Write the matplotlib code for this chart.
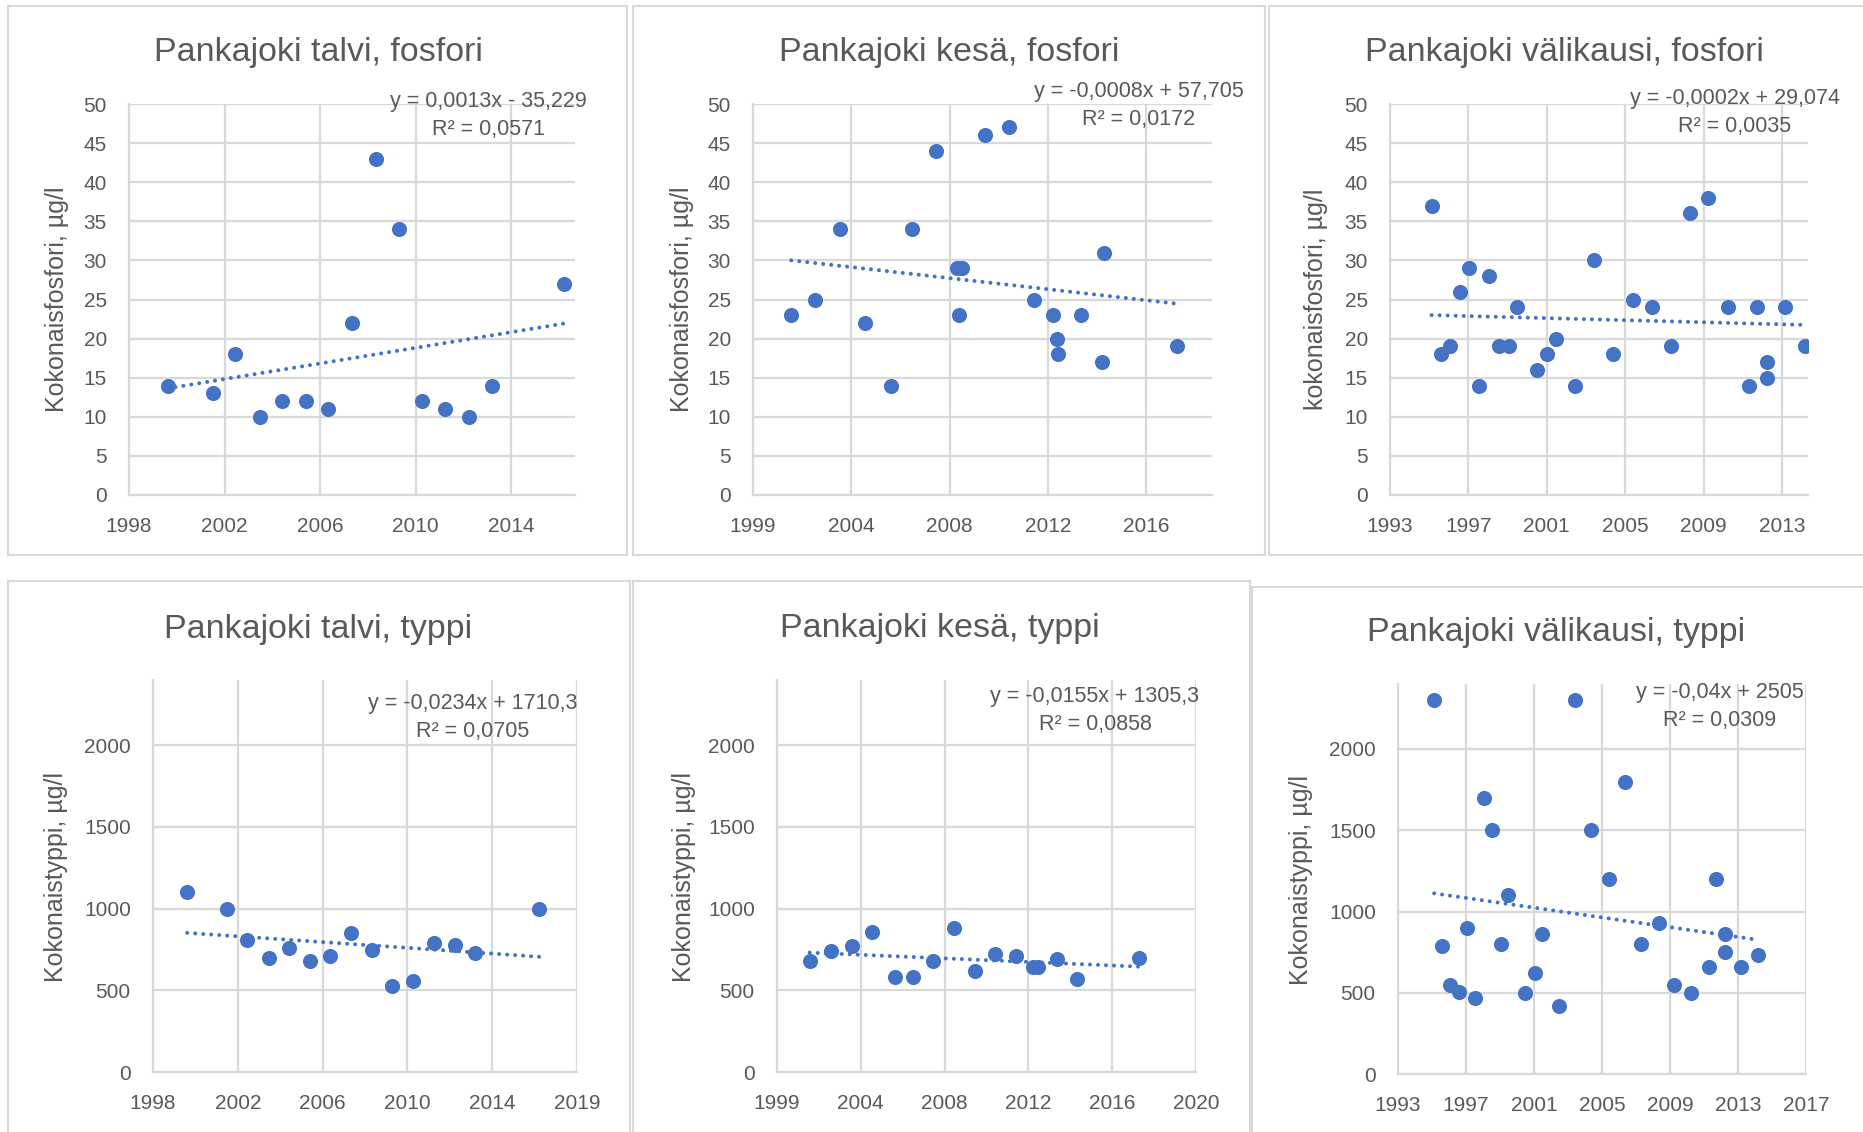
import numpy as np
import pandas as pd
import matplotlib
matplotlib.use('Agg')
import matplotlib.pyplot as plt
from matplotlib.patches import Rectangle

plt.rcParams['font.family'] = ['Liberation Sans', 'DejaVu Sans']

# sampling dates (Excel charts use date serials on the x axis)
talvi_dates = ['2000-03-20', '2002-02-26', '2003-02-08', '2004-03-05', '2005-02-26',
               '2006-02-25', '2007-02-17', '2008-02-27', '2009-02-25', '2010-02-24',
               '2011-02-20', '2012-02-28', '2013-03-06', '2014-03-05', '2017-04-04']
talvi_p = [14, 13, 18, 10, 12, 12, 11, 22, 43, 34, 12, 11, 10, 14, 27]
talvi_n = [1100, 1000, 810, 700, 760, 680, 710, 850, 750, 525, 560, 790, 780, 730, 1000]

kesa_p_dates = ['2001-07-12', '2002-07-14', '2003-07-29', '2004-08-05', '2005-09-13',
                '2006-08-02', '2007-07-29', '2008-06-10', '2008-07-17', '2008-08-30',
                '2009-08-13', '2010-08-15', '2011-08-23', '2012-06-10', '2012-08-17',
                '2012-08-30', '2013-08-19', '2014-06-26', '2014-08-09', '2017-08-19']
kesa_p = [23, 25, 34, 22, 14, 34, 44, 29, 23, 29, 46, 47, 25, 23, 20, 18, 23, 17, 31, 19]

kesa_n_dates = ['2001-07-13', '2002-07-26', '2003-08-09', '2004-08-07', '2005-09-10',
                '2006-08-04', '2007-08-03', '2008-08-15', '2009-08-14', '2010-08-20',
                '2011-08-27', '2012-06-21', '2012-09-22', '2013-08-23', '2014-08-15',
                '2017-08-25']
kesa_n = [680, 740, 770, 860, 580, 580, 680, 880, 620, 720, 710, 640, 640, 690, 570, 700]

vali_dates = ['1995-04-08', '1995-10-02', '1996-03-28', '1996-09-30', '1997-03-29',
              '1997-10-05', '1998-04-12', '1998-10-11', '1999-04-29', '1999-09-26',
              '2000-10-05', '2001-05-02', '2001-10-15', '2002-10-12', '2003-10-06',
              '2004-10-07', '2005-10-24', '2006-10-22', '2007-10-15', '2008-10-29',
              '2009-10-03', '2010-10-09', '2011-11-15', '2012-04-25', '2012-11-07',
              '2012-11-07', '2013-10-21', '2014-10-31']
vali_p = [37, 18, 19, 26, 29, 14, 28, 19, 19, 24, 16, 18, 20, 14, 30, 18, 25, 24, 19, 36,
          38, 24, 14, 24, 17, 15, 24, 19]
vali_n = [2300, 790, 550, 505, 900, 470, 1700, 1500, 800, 1100, 500, 620, 860, 420, 2300,
          1500, 1200, 1800, 800, 930, 550, 500, 660, 1200, 860, 750, 660, 730]

xlabels_talvi_p = ['1998', '2002', '2006', '2010', '2014']
xlabels_kesa_p = ['1999', '2004', '2008', '2012', '2016']
xlabels_vali_p = ['1993', '1997', '2001', '2005', '2009', '2013']
xlabels_talvi_n = ['1998', '2002', '2006', '2010', '2014', '2019']
xlabels_kesa_n = ['1999', '2004', '2008', '2012', '2016', '2020']
xlabels_vali_n = ['1993', '1997', '2001', '2005', '2009', '2013', '2017']

titles = ['Pankajoki talvi, fosfori', 'Pankajoki kesä, fosfori', 'Pankajoki välikausi, fosfori',
          'Pankajoki talvi, typpi', 'Pankajoki kesä, typpi', 'Pankajoki välikausi, typpi']
ylabels = ['Kokonaisfosfori, µg/l', 'Kokonaisfosfori, µg/l', 'kokonaisfosfori, µg/l',
           'Kokonaistyppi, µg/l', 'Kokonaistyppi, µg/l', 'Kokonaistyppi, µg/l']
equations = [('y = 0,0013x - 35,229', 'R² = 0,0571'),
             ('y = -0,0008x + 57,705', 'R² = 0,0172'),
             ('y = -0,0002x + 29,074', 'R² = 0,0035'),
             ('y = -0,0234x + 1710,3', 'R² = 0,0705'),
             ('y = -0,0155x + 1305,3', 'R² = 0,0858'),
             ('y = -0,04x + 2505', 'R² = 0,0309')]

BLUE = '#4472C4'
GREY_TXT = '#595959'
GRID = '#D9D9D9'

W, H = 1863, 1132
fig = plt.figure(figsize=(W / 100, H / 100), dpi=100)


def serial(dates):
    return (pd.to_datetime(dates) - pd.Timestamp('1899-12-30')).days.values.astype(float)


def fx(x):
    return x / W


def fy(y):
    return 1 - y / H


panels = [
    dict(frame=(8, 6, 627, 555), box=(129, 104, 575, 495), x0=36000, x1=43000,
         labels=xlabels_talvi_p, ymax=50, ytop=50, ystep=5, title=(318, 61), ylab=(57, 299),
         eq=(488, 107), d=talvi_dates, v=talvi_p),
    dict(frame=(633, 6, 1265, 555), box=(753, 104, 1212, 495), x0=36500, x1=43500,
         labels=xlabels_kesa_p, ymax=50, ytop=50, ystep=5, title=(949, 61), ylab=(682, 299),
         eq=(1139, 97), d=kesa_p_dates, v=kesa_p),
    dict(frame=(1269, 6, 1868, 555), box=(1390, 104, 1808, 495), x0=34000, x1=42000,
         labels=xlabels_vali_p, ymax=50, ytop=50, ystep=5, title=(1564, 61), ylab=(1316, 299),
         eq=(1735, 104), d=vali_dates, v=vali_p),
    dict(frame=(8, 581, 630, 1140), box=(153, 680, 577, 1072), x0=36000, x1=43500,
         labels=xlabels_talvi_n, ymax=2400, ytop=2000, ystep=500, title=(318, 638),
         ylab=(56, 877), eq=(473, 709), d=talvi_dates, v=talvi_n),
    dict(frame=(633, 581, 1250, 1140), box=(777, 680, 1196, 1072), x0=36500, x1=44000,
         labels=xlabels_kesa_n, ymax=2400, ytop=2000, ystep=500, title=(940, 637),
         ylab=(684, 877), eq=(1095, 702), d=kesa_n_dates, v=kesa_n),
    dict(frame=(1252, 587, 1868, 1140), box=(1398, 684, 1806, 1074), x0=34000, x1=43000,
         labels=xlabels_vali_n, ymax=2400, ytop=2000, ystep=500, title=(1556, 641),
         ylab=(1301, 880), eq=(1720, 698), d=vali_dates, v=vali_n),
]

for i, p in enumerate(panels):
    l, t, r, b = p['frame']
    fig.patches.append(Rectangle((fx(l), fy(b)), (r - l) / W, (b - t) / H,
                                 transform=fig.transFigure, fill=False,
                                 edgecolor=GRID, lw=1.5))
    l, t, r, b = p['box']
    ax = fig.add_axes([fx(l), fy(b), (r - l) / W, (b - t) / H])

    xs = serial(p['d'])
    ys = np.array(p['v'], dtype=float)
    ax.scatter(xs, ys, s=118, color=BLUE, zorder=3, linewidths=0)

    # linear trendline like Excel's
    k, c = np.polyfit(xs, ys, 1)
    xt = np.array([xs.min(), xs.max()])
    ax.plot(xt, k * xt + c, color=BLUE, lw=2.9, linestyle=(0, (0.01, 1.98)),
            dash_capstyle='round', zorder=4)

    xticks = np.arange(p['x0'], p['x1'] + 1, 1500)[:len(p['labels'])]
    ax.set_xticks(xticks)
    ax.set_xticklabels(p['labels'])
    ax.set_xlim(p['x0'], p['x1'])
    ax.set_ylim(0, p['ymax'])
    ax.set_yticks(np.arange(0, p['ytop'] + 1, p['ystep']))

    ax.grid(True, color=GRID, lw=1.6)
    ax.set_axisbelow(True)
    for s in ['top', 'right']:
        ax.spines[s].set_visible(False)
    for s in ['left', 'bottom']:
        ax.spines[s].set_color(GRID)
        ax.spines[s].set_linewidth(1.6)
    ax.tick_params(length=0, pad=16, labelsize=15, labelcolor=GREY_TXT)
    ax.patch.set_alpha(0)

    fig.text(fx(p['title'][0]), fy(p['title'][1]), titles[i], ha='center', va='baseline',
             fontsize=24.5, color=GREY_TXT)
    fig.text(fx(p['ylab'][0]), fy(p['ylab'][1]), ylabels[i], ha='center', va='center',
             rotation=90, fontsize=18, color=GREY_TXT)
    ex, ey = p['eq']
    fig.text(fx(ex), fy(ey), equations[i][0], ha='center', va='baseline', fontsize=15.5,
             color=GREY_TXT)
    fig.text(fx(ex), fy(ey + 28), equations[i][1], ha='center', va='baseline', fontsize=15.5,
             color=GREY_TXT)

fig.savefig('out.png', dpi=100)
